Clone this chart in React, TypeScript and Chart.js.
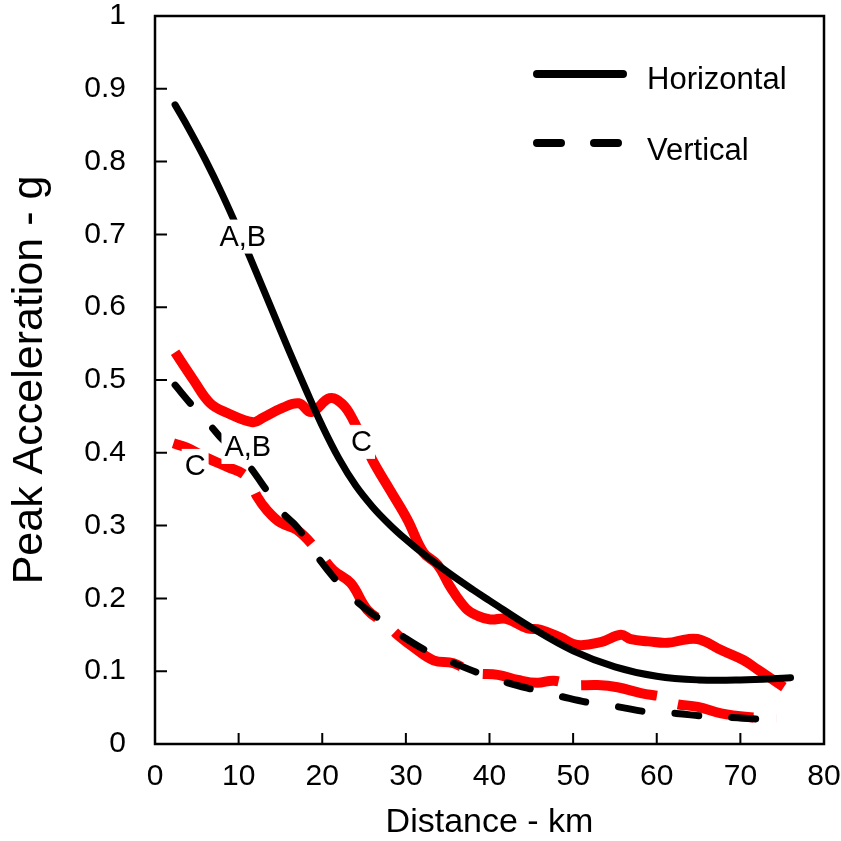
import React, { useEffect, useRef } from "react";
import { Chart, registerables } from "chart.js";

Chart.register(...registerables);

// ---- data ----
const hAB_x = [2.4, 4, 6, 8, 10, 12, 14, 16, 18, 20, 22, 24, 26, 28, 30, 32, 35, 38, 40, 45, 50, 55, 60, 65, 70, 76];
const hAB_y = [0.878, 0.846, 0.803, 0.756, 0.705, 0.651, 0.596, 0.541, 0.488, 0.437, 0.392, 0.355, 0.326, 0.302, 0.281, 0.262, 0.236, 0.212, 0.197, 0.16, 0.128, 0.106, 0.093, 0.088, 0.088, 0.091];

const vAB_x = [2.4, 4.6, 6.8, 8.1, 10, 11.4, 13.5, 15.3, 17, 19.5, 21.8, 24, 27.5, 30, 33, 36, 38.6, 42.2, 45.5, 48.7, 52.3, 55.4, 59, 62.3, 65.9, 69.7, 72.5];
const vAB_y = [0.493, 0.463, 0.435, 0.418, 0.4, 0.38, 0.346, 0.317, 0.298, 0.256, 0.223, 0.197, 0.166, 0.145, 0.125, 0.11, 0.098, 0.084, 0.074, 0.065, 0.056, 0.051, 0.044, 0.042, 0.038, 0.036, 0.034];

const hC_x = [2.4, 4.6, 6.6, 8.6, 11.7, 12.9, 15.3, 17.2, 18.7, 20.9, 22.4, 23.7, 26, 28.1, 30.2, 32.1, 33.8, 35.3, 37.2, 38.6, 40.1, 42, 44.5, 46.1, 48.5, 50.5, 53.3, 55.7, 56.9, 59, 61.3, 63.7, 65.3, 67.7, 70.4, 72.1, 75.2];
const hC_y = [0.538, 0.5, 0.468, 0.455, 0.442, 0.448, 0.462, 0.468, 0.456, 0.475, 0.467, 0.445, 0.39, 0.349, 0.308, 0.263, 0.246, 0.216, 0.186, 0.176, 0.171, 0.172, 0.159, 0.157, 0.146, 0.136, 0.14, 0.15, 0.144, 0.141, 0.139, 0.144, 0.143, 0.129, 0.115, 0.102, 0.078];

const vC_x = [2.2, 3.8, 6.2, 8.6, 11.0, 12.2, 13.4, 15, 17, 19.4, 21.3, 23.4, 25.4, 27.5, 29.3, 30.9, 33.3, 35.7, 38.1, 41, 43.4, 45.7, 47.7, 50, 52.9, 55.3, 58.1, 61.3, 62, 64.9, 67.7, 70.9, 74.3];
const vC_y = [0.413, 0.407, 0.393, 0.381, 0.367, 0.34, 0.321, 0.304, 0.294, 0.266, 0.239, 0.221, 0.184, 0.166, 0.147, 0.133, 0.115, 0.111, 0.098, 0.095, 0.088, 0.084, 0.087, 0.081, 0.081, 0.078, 0.07, 0.063, 0.056, 0.051, 0.042, 0.037, 0.035];

// curve labels (data coordinates)
const labelTexts = ["A,B", "A,B", "C", "C"];
const labelX = [10.5, 11.1, 4.8, 24.7];
const labelY = [0.697, 0.408, 0.382, 0.415];

const legendTexts = ["Horizontal", "Vertical"];

const FONT = '"Liberation Sans", Arial, Helvetica, sans-serif';

function pts(xs: number[], ys: number[]) {
  return xs.map((x, i) => ({ x, y: ys[i] }));
}

const decorPlugin = {
  id: "decor",
  afterDatasetsDraw(chart: any) {
    const { ctx, chartArea: a, scales } = chart;
    const xs = scales.x;
    const ys = scales.y;
    ctx.save();
    // curve labels with white boxes
    ctx.font = `29px ${FONT}`;
    ctx.textAlign = "center";
    ctx.textBaseline = "middle";
    labelTexts.forEach((t, i) => {
      const px = xs.getPixelForValue(labelX[i]);
      const py = ys.getPixelForValue(labelY[i]);
      const w = ctx.measureText(t).width;
      ctx.fillStyle = "#fff";
      ctx.fillRect(px - w / 2 - 3, py - 17, w + 6, 34);
      ctx.fillStyle = "#000";
      ctx.fillText(t, px, py + 1);
    });
    // frame
    ctx.strokeStyle = "#000";
    ctx.lineWidth = 2.5;
    ctx.strokeRect(a.left, a.top, a.right - a.left, a.bottom - a.top);
    // inward ticks
    ctx.lineWidth = 2;
    ctx.beginPath();
    xs.ticks.forEach((t: any) => {
      if (t.value <= xs.min || t.value >= xs.max) return;
      const px = xs.getPixelForValue(t.value);
      ctx.moveTo(px, a.bottom);
      ctx.lineTo(px, a.bottom - 11);
    });
    ys.ticks.forEach((t: any) => {
      if (t.value <= ys.min || t.value >= ys.max) return;
      const py = ys.getPixelForValue(t.value);
      ctx.moveTo(a.left, py);
      ctx.lineTo(a.left + 12, py);
    });
    ctx.stroke();
    // legend
    const lx0 = a.left + 382;
    const lx1 = a.left + 468;
    ctx.lineWidth = 8;
    ctx.lineCap = "round";
    ctx.beginPath();
    ctx.moveTo(lx0, a.top + 58);
    ctx.lineTo(lx1, a.top + 58);
    ctx.stroke();
    ctx.setLineDash([24, 33]);
    ctx.beginPath();
    ctx.moveTo(lx0, a.top + 127);
    ctx.lineTo(lx1, a.top + 127);
    ctx.stroke();
    ctx.setLineDash([]);
    ctx.font = `31px ${FONT}`;
    ctx.textAlign = "left";
    ctx.textBaseline = "alphabetic";
    ctx.fillStyle = "#000";
    ctx.fillText(legendTexts[0], a.left + 492, a.top + 73);
    ctx.fillText(legendTexts[1], a.left + 492, a.top + 144);
    ctx.restore();
  },
};

const zeroPad = (s: any) => {
  s.paddingTop = 0;
  s.paddingBottom = 0;
  s.paddingLeft = 0;
  s.paddingRight = 0;
};

const fmt = (v: any) => String(Math.round(Number(v) * 10) / 10);

export default function App() {
  const ref = useRef<HTMLCanvasElement>(null);
  useEffect(() => {
    document.body.style.margin = "0";
    const chart = new Chart(ref.current as HTMLCanvasElement, {
      type: "line",
      data: {
        datasets: [
          {
            label: "Horizontal A,B",
            data: pts(hAB_x, hAB_y),
            borderColor: "#000",
            borderWidth: 7,
            borderCapStyle: "round",
            pointRadius: 0,
            tension: 0.4,
          },
          {
            label: "Vertical A,B",
            data: pts(vAB_x, vAB_y),
            borderColor: "#000",
            borderWidth: 7,
            borderDash: [24, 33],
            borderCapStyle: "round",
            pointRadius: 0,
            tension: 0.4,
          },
          {
            label: "Horizontal C",
            data: pts(hC_x, hC_y),
            borderColor: "#ff0000",
            borderWidth: 10,
            pointRadius: 0,
            tension: 0.4,
          },
          {
            label: "Vertical C",
            data: pts(vC_x, vC_y),
            borderColor: "#ff0000",
            borderWidth: 10,
            borderDash: [77, 23],
            pointRadius: 0,
            tension: 0.4,
          },
        ],
      },
      options: {
        animation: false,
        responsive: false,
        devicePixelRatio: 1,
        layout: { padding: { top: 16, right: 17, left: 0, bottom: 0 } },
        plugins: { legend: { display: false }, tooltip: { enabled: false } },
        scales: {
          x: {
            type: "linear",
            min: 0,
            max: 80,
            ticks: { stepSize: 10, color: "#000", font: { family: FONT, size: 30 }, padding: 15, maxRotation: 0, callback: fmt },
            grid: { display: false, drawTicks: false },
            border: { display: false },
            title: {
              display: true,
              text: "Distance - km",
              color: "#000",
              font: { family: FONT, size: 34, lineHeight: 1.1 },
              padding: { top: 0, bottom: 0 },
            },
            afterFit: (s: any) => {
              s.height = 97;
              zeroPad(s);
            },
          },
          y: {
            type: "linear",
            min: 0,
            max: 1,
            ticks: { stepSize: 0.1, color: "#000", font: { family: FONT, size: 30 }, padding: 29, callback: fmt },
            grid: { display: false, drawTicks: false },
            border: { display: false },
            title: {
              display: true,
              text: "Peak Acceleration - g",
              color: "#000",
              font: { family: FONT, size: 43, lineHeight: 1.2 },
              padding: { top: 4, bottom: 0 },
            },
            afterFit: (s: any) => {
              s.width = 155;
              zeroPad(s);
            },
          },
        },
      },
      plugins: [decorPlugin],
    });
    return () => chart.destroy();
  }, []);
  return <canvas ref={ref} width={841} height={841} style={{ display: "block", width: 841, height: 841 }} />;
}
